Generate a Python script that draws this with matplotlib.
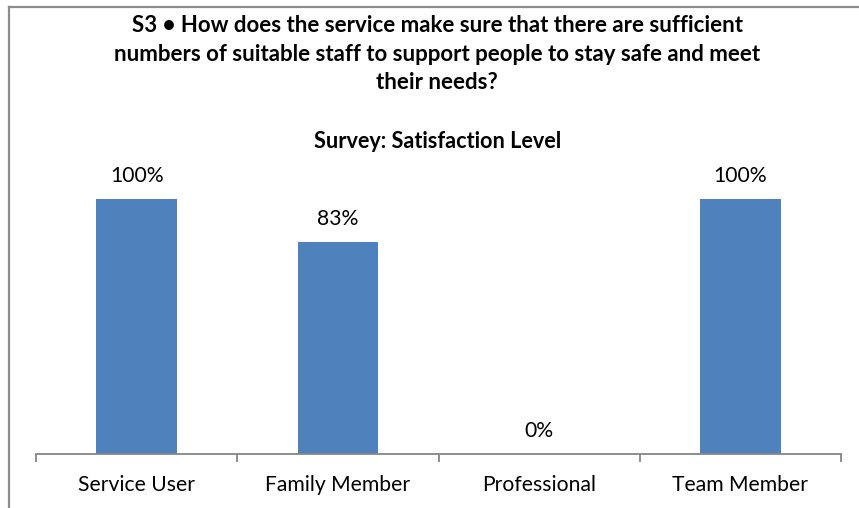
import matplotlib
matplotlib.use("Agg")
import matplotlib.pyplot as plt
from matplotlib.lines import Line2D

categories = ["Service User", "Family Member", "Professional", "Team Member"]
satisfaction = [100, 83, 0, 100]
value_labels = ["100%", "83%", "0%", "100%"]

title_lines = [
    "S3 \u2022 How does the service make sure that there are sufficient",
    "numbers of suitable staff to support people to stay safe and meet",
    "their needs?",
]
subtitle = "Survey: Satisfaction Level"

W, H = 859, 508
fig = plt.figure(figsize=(W / 100, H / 100), dpi=100)
fig.patch.set_facecolor("white")
plt.rcParams["font.family"] = ["Lato", "DejaVu Sans"]

# chart frame (top and left edges visible)
frame_col = "#8c8c8c"
fig.add_artist(Line2D([9 / W, 1.0], [1 - 7 / H, 1 - 7 / H], transform=fig.transFigure,
                      color=frame_col, lw=1.6))
fig.add_artist(Line2D([9 / W, 9 / W], [0.0, 1 - 7 / H], transform=fig.transFigure,
                      color=frame_col, lw=1.6))

# plot area
x0, x1, y_base, y_full = 36, 841, 454, 199
ymax = 1.2
unit = (y_base - y_full)
top_px = y_base - ymax * unit
ax = fig.add_axes([x0 / W, 1 - y_base / H, (x1 - x0) / W, (y_base - top_px) / H])
ax.set_xlim(-0.5, len(categories) - 0.5)
ax.set_ylim(0, ymax)

xs = list(range(len(categories)))
vals = [v / 100 for v in satisfaction]
ax.bar(xs, vals, width=0.4, color="#4F81BD", zorder=2)

fs = 15.2
for x, v, lab in zip(xs, vals, value_labels):
    ax.annotate(lab, (x, v), xytext=(0, 23), textcoords="offset pixels",
                ha="center", va="center", fontsize=fs, color="black",
                annotation_clip=False)

for s in ["top", "right", "left"]:
    ax.spines[s].set_visible(False)
ax.spines["bottom"].set_color("#868686")
ax.spines["bottom"].set_linewidth(1.3)
ax.set_yticks([])
ax.set_xticks([i - 0.5 for i in range(len(categories) + 1)])
ax.set_xticklabels([])
ax.tick_params(axis="x", which="major", direction="out", length=5.5, width=1.3,
               color="#868686")

for x, name in zip(xs, categories):
    ax.annotate(name, (x, 0), xycoords=("data", "axes fraction"),
                xytext=(0, -31), textcoords="offset pixels",
                ha="center", va="center", fontsize=fs, color="black",
                annotation_clip=False)

for i, line in enumerate(title_lines):
    fig.text(437 / W, 1 - (26 + 28.5 * i) / H, line, ha="center", va="center",
             fontsize=16.0, fontweight="bold")
fig.text(438 / W, 1 - 142 / H, subtitle, ha="center", va="center", fontsize=15.6,
         fontweight="bold")

fig.savefig("out.png", dpi=100, facecolor="white")
